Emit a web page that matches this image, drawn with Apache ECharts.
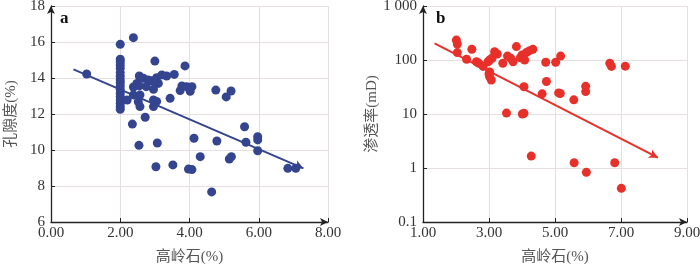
<!DOCTYPE html>
<html><head><meta charset="utf-8">
<script src="https://cdn.jsdelivr.net/npm/echarts@6/dist/echarts.min.js"></script>
<style>html,body{margin:0;padding:0;background:#fff}#c{width:700px;height:268px}</style>
</head><body><div id="c"></div>
<script>
// Panel a: kaolinite (%) vs porosity (%)
const aX = [2.0,2.0,2.0,2.0,2.0,2.0,2.0,2.0,2.0,2.0,2.0,2.0,2.0,2.0,2.0,2.0,2.0,
  1.03,2.38,3.0,3.87,2.55,2.67,2.81,2.91,3.05,3.20,3.34,3.56,3.10,2.38,2.48,2.55,2.75,2.96,3.73,3.78,3.92,4.07,4.02,
  2.2,2.38,2.57,2.52,2.57,2.96,3.05,2.96,3.44,2.72,2.35,2.54,3.07,4.13,4.79,4.31,3.03,3.52,3.97,4.07,4.64,
  4.76,5.06,5.20,5.59,5.63,5.97,5.97,5.97,5.15,5.21,6.84,7.07];
const aY = [15.87,15.04,14.89,14.72,14.54,14.30,14.10,13.89,13.74,13.56,13.37,13.15,12.96,12.78,12.59,12.41,12.26,
  14.22,16.24,14.94,14.67,14.11,13.98,13.89,13.85,14.02,14.17,14.11,14.2,13.7,13.5,13.7,13.56,13.52,13.37,13.3,13.56,13.52,13.52,13.26,
  12.78,13.06,13.06,12.68,12.41,12.78,12.7,12.41,12.87,11.82,11.44,10.26,10.39,10.65,10.5,9.63,9.07,9.17,8.94,8.91,7.67,
  13.33,12.95,13.28,11.29,10.43,10.74,10.56,9.96,9.5,9.63,8.98,8.98];
const aTrendX = [0.65, 7.29];
const aTrendY = [14.48, 8.98];

// Panel b: kaolinite (%) vs permeability (mD)
const bX = [2.01,2.04,2.04,2.32,2.48,2.62,2.69,2.82,2.97,3.02,3.09,3.02,3.02,3.07,3.0,3.17,3.25,3.42,3.56,3.66,3.73,3.83,4.0,4.08,4.13,4.23,4.33,3.95,
  4.06,3.53,4.01,4.06,4.28,4.72,5.02,5.17,4.74,4.61,5.11,5.16,6.66,6.71,7.13,5.93,5.93,5.57,5.58,6.81,5.95,7.01];
const bY = [234,198,137,103,158,93,87,76,93,100,108,60,49,42.6,55,142,129,87,118,108,93,177,124,100,137,149,158,110,
  32,10.4,10,10.3,1.66,91,91,118,40,23.6,24.6,24,87,76,77,32.5,26,18.3,1.25,1.25,0.83,0.42];
const bTrendX = [1.35, 8.12];
const bTrendY = [204, 1.55];

const aTicksX = [0,2,4,6,8];
const bTicksX = [1,3,5,7,9];
const bTicksY = ['0.1','1','10','100','1 000'];

const serif = '"Liberation Serif","Times New Roman",serif';
const cjk = '"Liberation Serif","Noto Sans CJK SC",serif';
const axisCol = '#222';
const gridCol = '#e6dfdf';

function xAxisDef(idx, min, max){
  return {gridIndex: idx, type:'value', min:min, max:max, interval:2,
    name:'高岭石(%)', nameLocation:'middle', nameGap:28,
    nameTextStyle:{fontFamily:cjk, fontSize:15, color:'#555'},
    axisLine:{show:true, onZero:false, lineStyle:{color:axisCol, width:1.3}, symbol:['none','arrow'], symbolSize:[6,8]},
    axisTick:{show:true, inside:true, length:4, lineStyle:{color:axisCol}},
    axisLabel:{fontFamily:serif, fontSize:15, color:'#333', margin:4, formatter:v=>v.toFixed(2)},
    splitLine:{show:true, lineStyle:{color:gridCol, width:1}}};
}

const option = {
  animation:false,
  backgroundColor:'#fff',
  grid:[{left:51, top:6, width:277, height:216, outerBoundsMode:'none', containLabel:false},
        {left:423, top:6, width:264, height:216, outerBoundsMode:'none', containLabel:false}],
  xAxis:[xAxisDef(0,0,8), xAxisDef(1,1,9)],
  yAxis:[
    {gridIndex:0, type:'value', min:6, max:18, interval:2,
      name:'孔隙度(%)', nameLocation:'middle', nameGap:32, nameRotate:90,
      nameTextStyle:{fontFamily:cjk, fontSize:15, color:'#555'},
      axisLine:{show:true, onZero:false, lineStyle:{color:axisCol, width:1.3}, symbol:['none','arrow'], symbolSize:[6,8]},
      axisTick:{show:true, inside:true, length:4, lineStyle:{color:axisCol}},
      axisLabel:{fontFamily:serif, fontSize:15, color:'#333', margin:6},
      splitLine:{show:true, lineStyle:{color:gridCol, width:1}}},
    {gridIndex:1, type:'log', logBase:10, min:0.1, max:1000,
      name:'渗透率(mD)', nameLocation:'middle', nameGap:43, nameRotate:90,
      nameTextStyle:{fontFamily:cjk, fontSize:15, color:'#555'},
      axisLine:{show:true, onZero:false, lineStyle:{color:axisCol, width:1.3}, symbol:['none','arrow'], symbolSize:[6,8]},
      axisTick:{show:true, inside:true, length:4, lineStyle:{color:axisCol}},
      axisLabel:{fontFamily:serif, fontSize:15, color:'#333', margin:6,
        formatter:v=>{const k=Math.round(Math.log10(v)); return bTicksY[k+1];}},
      minorTick:{show:false},
      splitLine:{show:true, lineStyle:{color:gridCol, width:1}}}
  ],
  graphic:[
    {type:'text', left:60, top:10, style:{text:'a', font:'bold 17px "Liberation Serif"', fill:'#111'}},
    {type:'text', left:436, top:10, style:{text:'b', font:'bold 17px "Liberation Serif"', fill:'#111'}}
  ],
  series:[
    {type:'scatter', xAxisIndex:0, yAxisIndex:0, symbolSize:9,
      itemStyle:{color:'#34448f', opacity:1},
      data:aX.map((x,i)=>[x,aY[i]]),
      markLine:{silent:true, symbol:['none','arrow'], symbolSize:[7,9], label:{show:false},
        lineStyle:{color:'#34448f', width:2, type:'solid'},
        data:[[{coord:[aTrendX[0],aTrendY[0]]},{coord:[aTrendX[1],aTrendY[1]]}]]}},
    {type:'scatter', xAxisIndex:1, yAxisIndex:1, symbolSize:9,
      itemStyle:{color:'#e8302a', opacity:1},
      data:bX.map((x,i)=>[x,bY[i]]),
      markLine:{silent:true, symbol:['none','arrow'], symbolSize:[7,9], label:{show:false},
        lineStyle:{color:'#e8302a', width:2, type:'solid'},
        data:[[{coord:[bTrendX[0],bTrendY[0]]},{coord:[bTrendX[1],bTrendY[1]]}]]}}
  ]
};
const chart = echarts.init(document.getElementById('c'), null, {renderer:'canvas'});
chart.setOption(option);
</script></body></html>
